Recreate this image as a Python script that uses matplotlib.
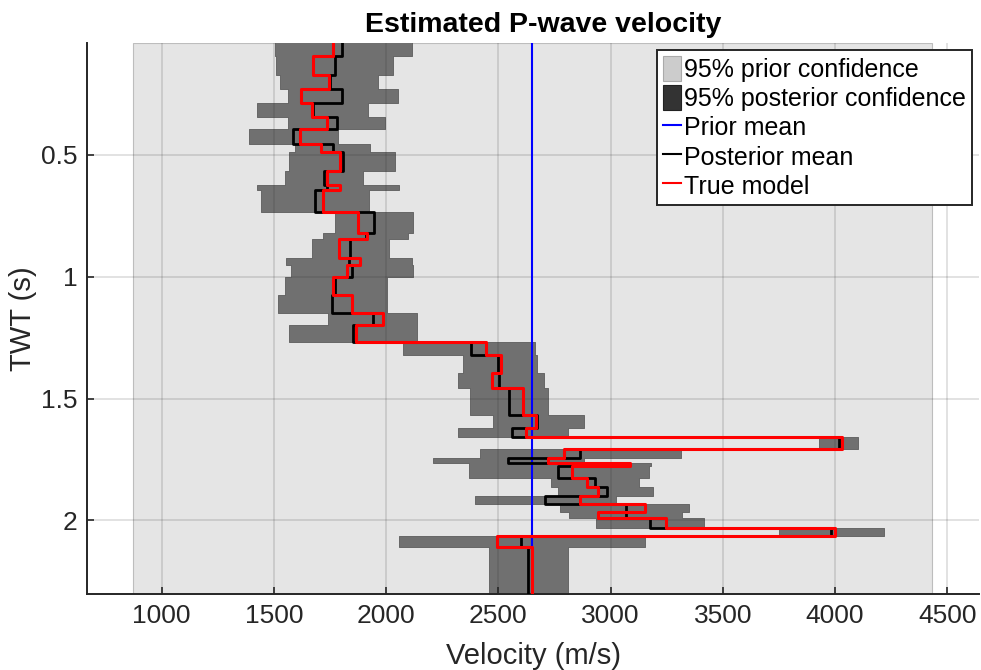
import matplotlib
matplotlib.use('Agg')
import matplotlib.pyplot as plt
import numpy as np
from matplotlib.patches import Patch
from matplotlib.lines import Line2D

plt.rcParams['font.family'] = ['Liberation Sans', 'DejaVu Sans']

# ---- data (layered model, TWT in s, velocities in m/s) ----
twt_edges = [0.0, 0.094, 0.172, 0.231, 0.288, 0.346, 0.395, 0.4565, 0.486, 0.566,
             0.624, 0.646, 0.733, 0.822, 0.846, 0.923, 0.952, 1.003, 1.075, 1.148,
             1.198, 1.267, 1.321, 1.397, 1.458, 1.568, 1.622, 1.659, 1.709, 1.745,
             1.763, 1.779, 1.828, 1.862, 1.900, 1.934, 1.965, 1.990, 2.033, 2.066,
             2.108, 2.40]

true_model = [1764, 1672, 1746, 1620, 1669, 1737, 1616, 1709, 1794, 1735,
              1794, 1720, 1876, 1913, 1791, 1883, 1824, 1762, 1846, 1984,
              1865, 2444, 2514, 2472, 2610, 2667, 2621, 4031, 2791, 2722,
              3088, 2830, 2893, 2944, 2866, 3155, 2944, 3249, 3998, 2495, 2648]

posterior_mean = [1802, 1772, 1749, 1805, 1675, 1782, 1587, 1761, 1806, 1723,
                  1736, 1683, 1945, 1910, 1839, 1834, 1846, 1772, 1757, 1942,
                  1853, 2376, 2499, 2503, 2548, 2673, 2563, 4017, 2865, 2543,
                  2982, 2766, 2930, 2982, 2707, 3070, 3068, 3174, 3984, 2603, 2633]

posterior_low = [1504, 1509, 1527, 1564, 1423, 1564, 1390, 1594, 1568, 1549,
                 1426, 1444, 1772, 1720, 1668, 1554, 1578, 1549, 1519, 1742,
                 1569, 2076, 2343, 2321, 2373, 2476, 2318, 3931, 2417, 2209,
                 2370, 2370, 2734, 2765, 2395, 2774, 2815, 2934, 3750, 2057, 2459]

posterior_high = [2113, 2031, 1965, 2054, 1920, 1994, 1786, 1928, 2039, 1898,
                  2058, 1924, 2120, 2098, 2014, 2113, 2120, 2002, 2002, 2136,
                  2136, 2662, 2670, 2702, 2722, 2881, 2811, 4102, 3316, 2880,
                  3182, 3171, 3127, 3189, 3023, 3349, 3320, 3416, 4218, 3155, 2811]

prior_mean = 2650
prior_low = 871
prior_high = 4432

x_ticks = [1000, 1500, 2000, 2500, 3000, 3500, 4000, 4500]
x_ticklabels = ['1000', '1500', '2000', '2500', '3000', '3500', '4000', '4500']
y_ticks = [0.5, 1.0, 1.5, 2.0]
y_ticklabels = ['0.5', '1', '1.5', '2']

legend_labels = ['95% prior confidence', '95% posterior confidence',
                 'Prior mean', 'Posterior mean', 'True model']

# ---- helpers to build step outlines from layers ----
edges = np.asarray(twt_edges, dtype=float)
y_step = np.repeat(edges, 2)[1:-1]


def xs(vals):
    return np.repeat(np.asarray(vals, dtype=float), 2)


fig = plt.figure(figsize=(9.81, 6.70), dpi=100)
ax = fig.add_axes([0.0887, 0.1134, 0.9093, 0.8224])
ax.set_facecolor('white')

# prior confidence band
ax.axvspan(prior_low, prior_high, facecolor='#e5e5e5', edgecolor='#bdbdbd',
           lw=0.8, zorder=1)
# posterior confidence band
ax.fill_betweenx(y_step, xs(posterior_low), xs(posterior_high),
                 facecolor='#707070', edgecolor='#5c5c5c', lw=0.6, zorder=1.1)

# prior mean
ax.axvline(prior_mean, color='#0000ff', lw=1.5, zorder=2)
# posterior mean
ax.plot(xs(posterior_mean), y_step, color='black', lw=2.0, zorder=3)
# true model
ax.plot(xs(true_model), y_step, color='#ff0000', lw=2.2, zorder=4)

ax.set_xlim(667, 4642)
ax.set_ylim(2.3026, 0.0406)

ax.set_xticks(x_ticks)
ax.set_xticklabels(x_ticklabels)
ax.set_yticks(y_ticks)
ax.set_yticklabels(y_ticklabels)

ax.set_axisbelow('line')
ax.grid(True, color='#262626', alpha=0.15, lw=1.3)

for s in ['top', 'right']:
    ax.spines[s].set_visible(False)
for s in ['left', 'bottom']:
    ax.spines[s].set_color('#262626')
    ax.spines[s].set_linewidth(1.4)

ax.tick_params(direction='in', length=5, width=1.2, colors='#262626',
               labelsize=19, pad=7)

ax.set_xlabel('Velocity (m/s)', fontsize=21, color='#262626', labelpad=10)
ax.set_ylabel('TWT (s)', fontsize=21, color='#262626', labelpad=3)
ax.set_title('Estimated P-wave velocity', fontsize=20.5, fontweight='bold',
             color='black', pad=8, x=0.511)

handles = [Patch(facecolor='#cccccc', edgecolor='#aaaaaa', lw=0.8),
           Patch(facecolor='#333333', edgecolor='#222222', lw=0.8),
           Line2D([], [], color='#0000ff', lw=1.5),
           Line2D([], [], color='black', lw=1.5),
           Line2D([], [], color='#ff0000', lw=1.5)]
leg = ax.legend(handles, legend_labels, loc='upper right',
                bbox_to_anchor=(0.9922, 0.9873), borderaxespad=0,
                fontsize=18, frameon=True, fancybox=False, framealpha=1,
                edgecolor='#262626', labelspacing=0.13, handlelength=0.72,
                handleheight=1.15, handletextpad=0.1, borderpad=0.25)
leg.get_frame().set_linewidth(1.4)

fig.savefig('out.png', dpi=100)
